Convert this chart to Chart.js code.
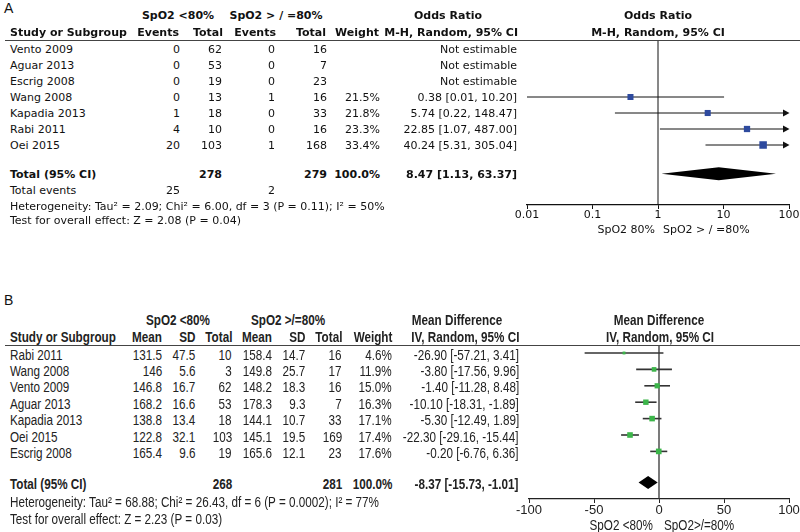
<!DOCTYPE html>
<html>
<head>
<meta charset="utf-8">
<script src="https://cdn.jsdelivr.net/npm/chart.js@4.4.1/dist/chart.umd.min.js"></script>
<style>
  html, body { margin: 0; padding: 0; background: #fff; }
  #fig { position: relative; width: 800px; height: 532px; overflow: hidden; }
  .t { position: absolute; white-space: nowrap; line-height: 1; }
  .pa { font-family: "DejaVu Sans", Verdana, sans-serif; font-size: 11px; color: #111; }
  .pb { font-family: "Liberation Sans", Arial, sans-serif; font-size: 14px; color: #222; }
  .lbl { font-family: "Liberation Sans", Arial, sans-serif; font-size: 14px; color: #111; }
  .b { font-weight: bold; }
  .rule { position: absolute; left: 5px; width: 795px; height: 0; border-top: 1.5px solid #444; }
  canvas { position: absolute; }
</style>
</head>
<body>
<div id="fig">
  <canvas id="chartA" width="400" height="245" style="left:400px;top:0px"></canvas>
  <canvas id="chartB" width="400" height="232" style="left:400px;top:300px"></canvas>
  <div class="rule" style="top:40px"></div>
  <div class="rule" style="top:345px"></div>
</div>
<script>
// ---- panel A: SpO2 <80% vs >=80%, odds ratio ----
const studiesA = ['Vento 2009', 'Aguar 2013', 'Escrig 2008', 'Wang 2008', 'Kapadia 2013', 'Rabi 2011', 'Oei 2015'];
const eventsLowA = [0, 0, 0, 0, 1, 4, 20];
const totalLowA = [62, 53, 19, 13, 18, 10, 103];
const eventsHighA = [0, 0, 0, 1, 0, 0, 1];
const totalHighA = [16, 7, 23, 16, 33, 16, 168];
const weightA = [null, null, null, 21.5, 21.8, 23.3, 33.4];
const orA = [null, null, null, 0.38, 5.74, 22.85, 40.24];
const orLoA = [null, null, null, 0.01, 0.22, 1.07, 5.31];
const orHiA = [null, null, null, 10.20, 148.47, 487.00, 305.04];
const pooledA = [8.47, 1.13, 63.37];      // estimate, lower, upper
const sumTotalsA = [278, 279];
const sumEventsA = [25, 2];
const ticksA = [0.01, 0.1, 1, 10, 100];

// ---- panel B: mean difference ----
const studiesB = ['Rabi 2011', 'Wang 2008', 'Vento 2009', 'Aguar 2013', 'Kapadia 2013', 'Oei 2015', 'Escrig 2008'];
const meanLowB = [131.5, 146, 146.8, 168.2, 138.8, 122.8, 165.4];
const sdLowB = [47.5, 5.6, 16.7, 16.6, 13.4, 32.1, 9.6];
const nLowB = [10, 3, 62, 53, 18, 103, 19];
const meanHighB = [158.4, 149.8, 148.2, 178.3, 144.1, 145.1, 165.6];
const sdHighB = [14.7, 25.7, 18.3, 9.3, 10.7, 19.5, 12.1];
const nHighB = [16, 17, 16, 7, 33, 169, 23];
const weightB = [4.6, 11.9, 15.0, 16.3, 17.1, 17.4, 17.6];
const mdB = [-26.90, -3.80, -1.40, -10.10, -5.30, -22.30, -0.20];
const mdLoB = [-57.21, -17.56, -11.28, -18.31, -12.49, -29.16, -6.76];
const mdHiB = [3.41, 9.96, 8.48, -1.89, 1.89, -15.44, 6.36];
const pooledB = [-8.37, -15.73, -1.01];
const sumTotalsB = [268, 281];

// layout
const A_TOP = 40, A_AXIS = 205, A_ROW0 = 49, A_PITCH = 16;
const B_TOP = 345, B_AXIS = 499, B_ROW0 = 353, B_PITCH = 16.4;
const rowA = i => A_ROW0 + A_PITCH * i;
const rowB = i => B_ROW0 + B_PITCH * i + 1.5;
const TOTAL_ROW_A = 7.8, TOTAL_ROW_B = 7.9;
const NARROW = 0.835; // no narrow face installed, so squeeze Liberation Sans

const fig = document.getElementById('fig');
function put(txt, x, y, align, cls) {
  const d = document.createElement('div');
  d.className = 't ' + cls;
  d.textContent = txt;
  d.style.top = y + 'px';
  const sx = cls.indexOf('pb') >= 0 ? NARROW : 1;
  if (align === 'r') {
    d.style.right = (800 - x) + 'px';
    d.style.transformOrigin = '100% 50%';
    d.style.transform = 'translateY(-50%) scaleX(' + sx + ')';
  } else if (align === 'c') {
    d.style.left = x + 'px';
    d.style.transformOrigin = '50% 50%';
    d.style.transform = 'translate(-50%, -50%) scaleX(' + sx + ')';
  } else {
    d.style.left = x + 'px';
    d.style.transformOrigin = '0 50%';
    d.style.transform = 'translateY(-50%) scaleX(' + sx + ')';
  }
  fig.appendChild(d);
}
const ci = (e, l, h) => e.toFixed(2) + ' [' + l.toFixed(2) + ', ' + h.toFixed(2) + ']';

// ---- table A ----
put('A', 4, 8, 'l', 'lbl');
put('SpO2 <80%', 178, 15, 'c', 'pa b');
put('SpO2 > / =80%', 276, 15, 'c', 'pa b');
put('Odds Ratio', 448, 15, 'c', 'pa b');
put('Odds Ratio', 658, 15, 'c', 'pa b');
put('Study or Subgroup', 10, 32, 'l', 'pa b');
put('Events', 179, 32, 'r', 'pa b');
put('Total', 223, 32, 'r', 'pa b');
put('Events', 276, 32, 'r', 'pa b');
put('Total', 326, 32, 'r', 'pa b');
put('Weight', 379, 32, 'r', 'pa b');
put('M-H, Random, 95% CI', 518, 32, 'r', 'pa b');
put('M-H, Random, 95% CI', 658, 32, 'c', 'pa b');
studiesA.forEach((s, i) => {
  const y = rowA(i);
  put(s, 10, y, 'l', 'pa');
  put(String(eventsLowA[i]), 180, y, 'r', 'pa');
  put(String(totalLowA[i]), 222, y, 'r', 'pa');
  put(String(eventsHighA[i]), 275, y, 'r', 'pa');
  put(String(totalHighA[i]), 327, y, 'r', 'pa');
  if (weightA[i] != null) put(weightA[i].toFixed(1) + '%', 380, y, 'r', 'pa');
  put(orA[i] == null ? 'Not estimable' : ci(orA[i], orLoA[i], orHiA[i]), 517, y, 'r', 'pa');
});
let yt = rowA(TOTAL_ROW_A);
put('Total (95% CI)', 10, yt, 'l', 'pa b');
put(String(sumTotalsA[0]), 222, yt, 'r', 'pa b');
put(String(sumTotalsA[1]), 327, yt, 'r', 'pa b');
put('100.0%', 380, yt, 'r', 'pa b');
put(ci(pooledA[0], pooledA[1], pooledA[2]), 517, yt, 'r', 'pa b');
put('Total events', 10, rowA(8.8), 'l', 'pa');
put(String(sumEventsA[0]), 180, rowA(8.8), 'r', 'pa');
put(String(sumEventsA[1]), 275, rowA(8.8), 'r', 'pa');
put('Heterogeneity: Tau² = 2.09; Chi² = 6.00, df = 3 (P = 0.11); I² = 50%', 10, rowA(9.8), 'l', 'pa');
put('Test for overall effect: Z = 2.08 (P = 0.04)', 10, rowA(10.7), 'l', 'pa');
put('SpO2 80%', 655, 229, 'r', 'pa');
put('SpO2 > / =80%', 663, 229, 'l', 'pa');

// ---- table B ----
put('B', 4, 300, 'l', 'lbl');
put('SpO2 <80%', 178, 320, 'c', 'pb b');
put('SpO2 >/=80%', 288, 320, 'c', 'pb b');
put('Mean Difference', 457, 320, 'c', 'pb b');
put('Mean Difference', 659, 320, 'c', 'pb b');
put('Study or Subgroup', 10, 337, 'l', 'pb b');
put('Mean', 162, 337, 'r', 'pb b');
put('SD', 195, 337, 'r', 'pb b');
put('Total', 232, 337, 'r', 'pb b');
put('Mean', 272, 337, 'r', 'pb b');
put('SD', 305, 337, 'r', 'pb b');
put('Total', 342, 337, 'r', 'pb b');
put('Weight', 392, 337, 'r', 'pb b');
put('IV, Random, 95% CI', 519, 337, 'r', 'pb b');
put('IV, Random, 95% CI', 660, 337, 'c', 'pb b');
studiesB.forEach((s, i) => {
  const y = rowB(i);
  put(s, 10, y, 'l', 'pb');
  put(String(meanLowB[i]), 162, y, 'r', 'pb');
  put(String(sdLowB[i]), 195, y, 'r', 'pb');
  put(String(nLowB[i]), 232, y, 'r', 'pb');
  put(String(meanHighB[i]), 272, y, 'r', 'pb');
  put(String(sdHighB[i]), 305, y, 'r', 'pb');
  put(String(nHighB[i]), 342, y, 'r', 'pb');
  put(weightB[i].toFixed(1) + '%', 392, y, 'r', 'pb');
  put(ci(mdB[i], mdLoB[i], mdHiB[i]), 519, y, 'r', 'pb');
});
yt = rowB(TOTAL_ROW_B);
put('Total (95% CI)', 10, yt, 'l', 'pb b');
put(String(sumTotalsB[0]), 232, yt, 'r', 'pb b');
put(String(sumTotalsB[1]), 342, yt, 'r', 'pb b');
put('100.0%', 392, yt, 'r', 'pb b');
put(ci(pooledB[0], pooledB[1], pooledB[2]), 519, yt, 'r', 'pb b');
put('Heterogeneity: Tau² = 68.88; Chi² = 26.43, df = 6 (P = 0.0002); I² = 77%', 10, rowB(9.0), 'l', 'pb');
put('Test for overall effect: Z = 2.23 (P = 0.03)', 10, rowB(10.0), 'l', 'pb');
put('SpO2 <80%', 653, 525, 'r', 'pb');
put('SpO2>/=80%', 664, 525, 'l', 'pb');

// whiskers, diamond and the no-effect line, all placed through the chart scales
function makeForest(cfg) {
  return {
    id: 'forest',
    beforeDatasetsDraw(chart) {
      const { ctx, chartArea: a, scales: { x, y } } = chart;
      ctx.save();
      const x0 = x.getPixelForValue(cfg.nullValue);
      ctx.strokeStyle = cfg.color;
      ctx.lineWidth = cfg.nullWidth;
      ctx.beginPath(); ctx.moveTo(x0, a.top); ctx.lineTo(x0, a.bottom); ctx.stroke();

      ctx.lineWidth = cfg.ciWidth;
      cfg.lo.forEach((lo, i) => {
        if (lo == null) return;
        const py = y.getPixelForValue(i);
        const clipped = cfg.hi[i] > x.max;
        const p1 = x.getPixelForValue(Math.max(lo, x.min));
        const p2 = clipped ? a.right : x.getPixelForValue(cfg.hi[i]);
        ctx.beginPath(); ctx.moveTo(p1, py); ctx.lineTo(clipped ? p2 - 4 : p2, py); ctx.stroke();
        if (clipped) {
          ctx.fillStyle = cfg.color;
          ctx.beginPath();
          ctx.moveTo(p2 - 6, py - 3.5); ctx.lineTo(p2 + 0.5, py); ctx.lineTo(p2 - 6, py + 3.5);
          ctx.closePath(); ctx.fill();
        }
      });

      const [est, lo, hi] = cfg.pooled;
      const py = y.getPixelForValue(cfg.pooledRow);
      const h = cfg.diamondH / 2;
      ctx.fillStyle = '#000';
      ctx.beginPath();
      ctx.moveTo(x.getPixelForValue(lo), py);
      ctx.lineTo(x.getPixelForValue(est), py - h);
      ctx.lineTo(x.getPixelForValue(hi), py);
      ctx.lineTo(x.getPixelForValue(est), py + h);
      ctx.closePath(); ctx.fill();
      ctx.restore();
    }
  };
}

function axisX(extra, font, color) {
  return Object.assign({
    ticks: { font: font, color: color, padding: 0, maxRotation: 0, autoSkip: false },
    grid: { drawOnChartArea: false, color: color, tickLength: 4 },
    border: { color: color, width: 1.2 },
    afterFit: s => { s.height = 30; }
  }, extra);
}

const pointsA = [], radiusA = [];
orA.forEach((v, i) => { if (v != null) { pointsA.push({ x: v, y: i }); radiusA.push(0.92 * Math.sqrt(weightA[i])); } });
const minA = -(A_ROW0 - A_TOP) / A_PITCH;
const xA = axisX({
  type: 'logarithmic', min: ticksA[0], max: ticksA[ticksA.length - 1],
  afterBuildTicks: s => { s.ticks = ticksA.map(v => ({ value: v })); }
}, { family: 'DejaVu Sans', size: 11 }, '#111');
xA.ticks.callback = v => String(v);
new Chart(document.getElementById('chartA'), {
  type: 'scatter',
  data: { datasets: [{ data: pointsA, pointStyle: 'rect', pointRadius: radiusA, backgroundColor: '#2e4a9e', borderWidth: 0 }] },
  options: {
    responsive: false, animation: false, events: [],
    layout: { padding: { left: 127, right: 11, top: A_TOP, bottom: 245 - A_AXIS - 30 } },
    plugins: { legend: { display: false }, tooltip: { enabled: false } },
    scales: {
      x: xA,
      y: { type: 'linear', display: false, reverse: true, min: minA, max: minA + (A_AXIS - A_TOP) / A_PITCH }
    }
  },
  plugins: [makeForest({ nullValue: 1, color: '#111', nullWidth: 1, ciWidth: 1, lo: orLoA, hi: orHiA, pooled: pooledA, pooledRow: TOTAL_ROW_A, diamondH: 13 })]
});

const pointsB = mdB.map((v, i) => ({ x: v, y: i }));
const minB = -(B_ROW0 - B_TOP) / B_PITCH;
const xB = axisX({ type: 'linear', min: -100, max: 100 }, { family: 'Liberation Sans', size: 13 }, '#222');
xB.ticks.stepSize = 50;
new Chart(document.getElementById('chartB'), {
  type: 'scatter',
  data: { datasets: [{ data: pointsB, pointStyle: 'rect', pointRadius: weightB.map(w => 0.95 * Math.sqrt(w)), backgroundColor: '#3cb54a', borderWidth: 0 }] },
  options: {
    responsive: false, animation: false, events: [],
    layout: { padding: { left: 129, right: 11, top: B_TOP - 300, bottom: 232 - (B_AXIS - 300) - 30 } },
    plugins: { legend: { display: false }, tooltip: { enabled: false } },
    scales: {
      x: xB,
      y: { type: 'linear', display: false, reverse: true, min: minB, max: minB + (B_AXIS - B_TOP) / B_PITCH }
    }
  },
  plugins: [makeForest({ nullValue: 0, color: '#333', nullWidth: 1.3, ciWidth: 1.6, lo: mdLoB, hi: mdHiB, pooled: pooledB, pooledRow: TOTAL_ROW_B, diamondH: 13 })]
});
</script>
</body>
</html>
